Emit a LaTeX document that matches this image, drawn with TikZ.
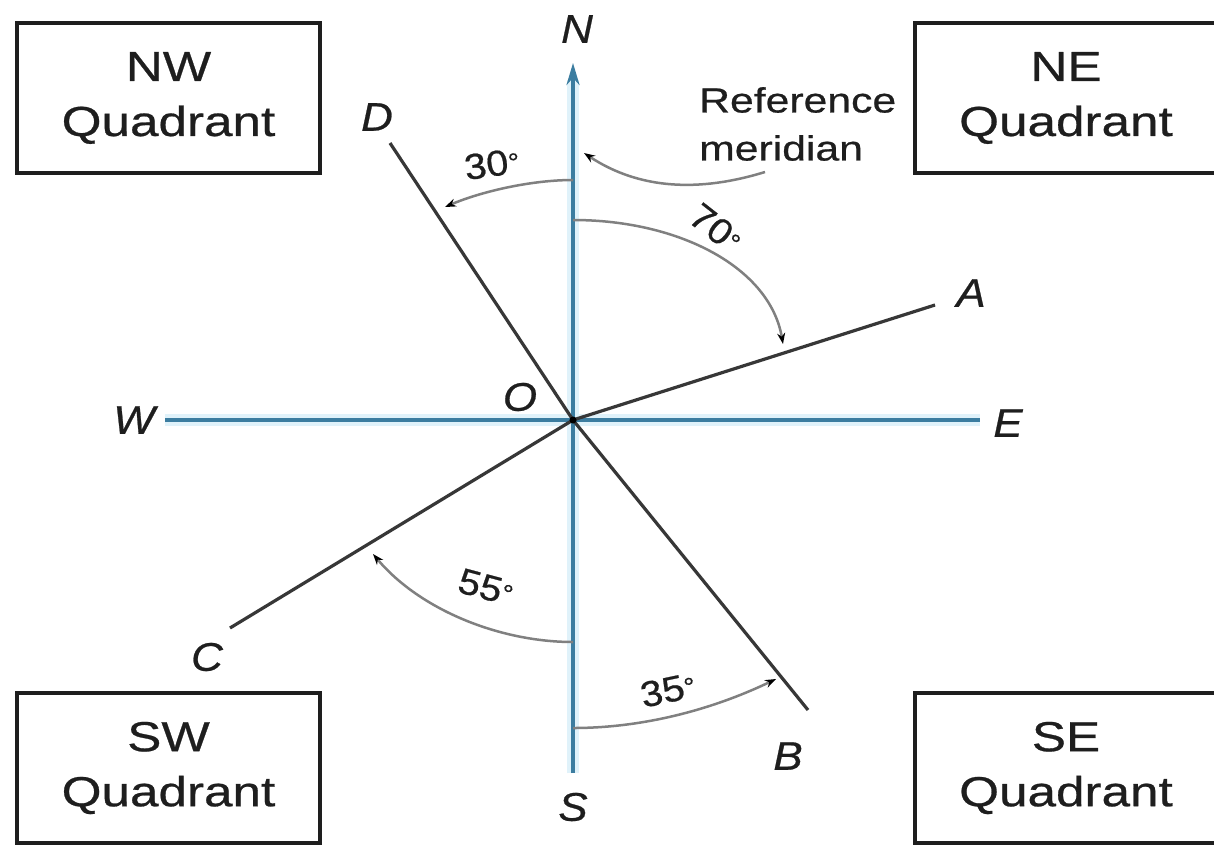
\documentclass[tikz,border=0pt]{standalone}
\usepackage{fontspec}
\setmainfont{Liberation Sans}
\newfontfamily\boxfont[FakeStretch=1.22,FakeBold=0.6]{Liberation Sans}
\newfontfamily\labfont[FakeStretch=1.1,FakeBold=0.6]{Liberation Sans}
\usetikzlibrary{arrows.meta}
\definecolor{axiscol}{RGB}{60,125,160}
\definecolor{halocol}{RGB}{224,242,250}
\definecolor{raycol}{RGB}{55,55,55}
\definecolor{arccol}{RGB}{128,128,128}
\definecolor{inkcol}{RGB}{30,30,30}
\newcommand{\dg}{{\fontsize{26}{26}\selectfont\raisebox{2pt}{°}}}
\tikzset{
  haloline/.style={draw=halocol, line width=12pt},
  axisline/.style={draw=axiscol, line width=3.5pt},
  rayline/.style={draw=raycol, line width=3.2pt},
  arcline/.style={draw=arccol, line width=2.5pt, -{Stealth[length=11pt,width=8pt,color=black]}},
  quadbox/.style={draw=inkcol, line width=4pt, minimum width=303pt, minimum height=150pt,
    align=center, inner sep=0pt, text=inkcol, font=\boxfont\fontsize{42}{55}\selectfont},
  dirlabel/.style={text=inkcol, inner sep=0pt, font=\labfont\itshape\fontsize{40}{44}\selectfont},
  anglabel/.style={text=inkcol, inner sep=0pt, font=\labfont\fontsize{36}{40}\selectfont},
}
\begin{document}
\begin{tikzpicture}[x=1pt,y=-1pt]
\useasboundingbox (0,0) rectangle (1214,844);
\fill[white] (0,0) rectangle (1214,844);

% points
\coordinate (O) at (573,420);
\coordinate (Ntip) at (573,63);
\coordinate (Send) at (573,773);
\coordinate (Wend) at (165,420);
\coordinate (Eend) at (980,420);
\coordinate (Aend) at (935,305);
\coordinate (Bend) at (808,710);
\coordinate (Cend) at (230,628);
\coordinate (Dend) at (390,143);

% axes
\draw[haloline] (Send) -- (573,80);
\draw[haloline] (Wend) -- (Eend);
\draw[axisline, -{Stealth[length=22pt,width=13pt]}] (Send) -- (Ntip);
\draw[axisline] (Wend) -- (Eend);

% rays
\draw[rayline] (O) -- (Aend);
\draw[rayline] (O) -- (Bend);
\draw[rayline] (O) -- (Cend);
\draw[rayline] (O) -- (Dend);
\fill[black] (O) circle (3.5pt);

% angle arcs
\coordinate (a30s) at (573,180);  \coordinate (a30e) at (445,207);
\coordinate (a70s) at (573,220);  \coordinate (a70e) at (783,344);
\coordinate (a55s) at (573,642);  \coordinate (a55e) at (373,554);
\coordinate (a35s) at (573,728);  \coordinate (a35e) at (776,679);
\draw[arcline] (a30s) .. controls (530,180) and (480,192) .. (a30e);
\draw[arcline] (a70s) .. controls (680,220) and (770,268) .. (a70e);
\draw[arcline] (a55s) .. controls (500,642) and (420,610) .. (a55e);
\draw[arcline] (a35s) .. controls (650,728) and (720,706) .. (a35e);

% reference meridian leader
\coordinate (refs) at (765,172);
\coordinate (refe) at (584,153);
\draw[arcline] (refs) .. controls (700,192) and (640,190) .. (refe);
\node[anchor=west, align=left, inner sep=0pt, text=inkcol,
      font=\boxfont\fontsize{35}{48}\selectfont] (ref) at (699,124) {Reference\\meridian};

% direction labels
\node[dirlabel] (N) at (577,29) {N};
\node[dirlabel] (S) at (573,807) {S};
\node[dirlabel] (W) at (134,420) {W};
\node[dirlabel] (E) at (1008,423) {E};
\node[dirlabel] (Ol) at (520,397) {O};
\node[dirlabel] (A) at (971,293) {A};
\node[dirlabel] (B) at (788,756) {B};
\node[dirlabel] (C) at (207,657) {C};
\node[dirlabel] (D) at (377,117) {D};

% angle labels
\node[anglabel, rotate=8] (l30) at (492,164) {30\dg};
\node[anglabel, rotate=-38] (l70) at (716,228) {70\dg};
\node[anglabel, rotate=-15] (l55) at (486,587) {55\dg};
\node[anglabel, rotate=12] (l35) at (668,690) {35\dg};

% quadrant boxes
\node[quadbox] (nw) at (168.5,98) {NW\\Quadrant};
\node[quadbox] (ne) at (1066,98) {NE\\Quadrant};
\node[quadbox] (sw) at (168.5,768) {SW\\Quadrant};
\node[quadbox] (se) at (1066,768) {SE\\Quadrant};
\end{tikzpicture}
\end{document}
